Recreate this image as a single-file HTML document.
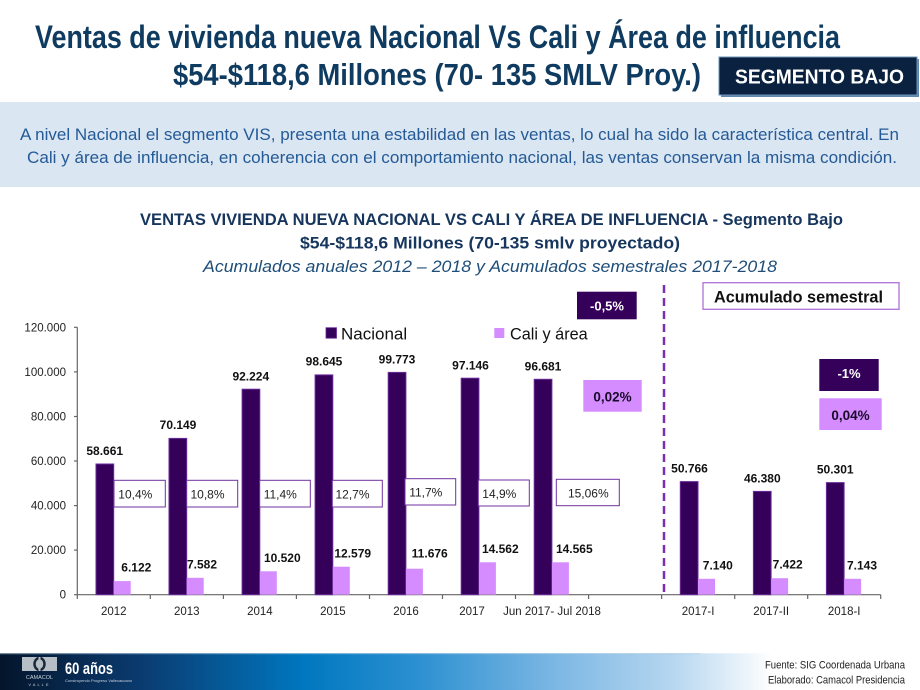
<!DOCTYPE html>
<html><head><meta charset="utf-8"><style>
html,body{margin:0;padding:0;background:#fff;}
svg{display:block;}
</style></head><body>
<svg width="920" height="690" viewBox="0 0 920 690" xmlns="http://www.w3.org/2000/svg" font-family="Liberation Sans, sans-serif">
<defs>
<linearGradient id="ft" x1="0" y1="0" x2="1" y2="0">
<stop offset="0" stop-color="#04152b"/>
<stop offset="0.15" stop-color="#0a3a6e"/>
<stop offset="0.33" stop-color="#0077bf"/>
<stop offset="0.45" stop-color="#2a8fd0"/>
<stop offset="0.6" stop-color="#7ab6e3"/>
<stop offset="0.73" stop-color="#b5d6f0"/>
<stop offset="0.84" stop-color="#ffffff"/>
<stop offset="1" stop-color="#ffffff"/>
</linearGradient>
</defs>
<rect width="920" height="690" fill="#fff"/>
<!-- header -->
<text x="35" y="48" font-size="32" font-weight="bold" fill="#0e3b5f" textLength="805" lengthAdjust="spacingAndGlyphs">Ventas de vivienda nueva Nacional Vs Cali y Área de influencia</text>
<text x="173" y="85" font-size="31" font-weight="bold" fill="#0e3b5f" textLength="528" lengthAdjust="spacingAndGlyphs">$54-$118,6 Millones (70- 135 SMLV Proy.)</text>
<rect x="721" y="59" width="198" height="38" fill="#5f86ab"/>
<rect x="719" y="57" width="198" height="38" fill="#0a2240" stroke="#6f94b8" stroke-width="1"/>
<text x="735" y="83.5" font-size="20" font-weight="bold" fill="#fff" textLength="169" lengthAdjust="spacingAndGlyphs">SEGMENTO BAJO</text>
<!-- band -->
<rect x="0" y="102" width="920" height="85" fill="#dae6f2"/>
<text x="20" y="140" font-size="16.5" fill="#245a96" textLength="879" lengthAdjust="spacingAndGlyphs">A nivel Nacional el segmento VIS, presenta una estabilidad en las ventas, lo cual ha sido la característica central. En</text>
<text x="27" y="163" font-size="16.5" fill="#245a96" textLength="870" lengthAdjust="spacingAndGlyphs">Cali y área de influencia, en coherencia con el comportamiento nacional, las ventas conservan la misma condición.</text>
<!-- chart title -->
<text x="140" y="225" font-size="16.5" font-weight="bold" fill="#17365d" textLength="703" lengthAdjust="spacingAndGlyphs">VENTAS VIVIENDA NUEVA NACIONAL VS CALI Y ÁREA DE INFLUENCIA -  Segmento Bajo</text>
<text x="300" y="248.5" font-size="16.5" font-weight="bold" fill="#17365d" textLength="380" lengthAdjust="spacingAndGlyphs">$54-$118,6 Millones (70-135 smlv proyectado)</text>
<text x="203" y="272" font-size="16.5" font-style="italic" fill="#1f4e79" textLength="574" lengthAdjust="spacingAndGlyphs">Acumulados anuales 2012 – 2018 y Acumulados semestrales 2017-2018</text>

<!-- axes -->
<g stroke="#666" stroke-width="1.2">
<line x1="77.3" y1="327.3" x2="77.3" y2="594.7"/>
<line x1="77.3" y1="594.7" x2="880.7" y2="594.7"/>
<line x1="74" y1="327.3" x2="77.3" y2="327.3"/>
<line x1="74" y1="371.9" x2="77.3" y2="371.9"/>
<line x1="74" y1="416.5" x2="77.3" y2="416.5"/>
<line x1="74" y1="461" x2="77.3" y2="461"/>
<line x1="74" y1="505.6" x2="77.3" y2="505.6"/>
<line x1="74" y1="550.1" x2="77.3" y2="550.1"/>
<line x1="74" y1="594.7" x2="77.3" y2="594.7"/>
<line x1="77.3" y1="594.7" x2="77.3" y2="599"/>
<line x1="150.3" y1="594.7" x2="150.3" y2="599"/>
<line x1="223.4" y1="594.7" x2="223.4" y2="599"/>
<line x1="296.4" y1="594.7" x2="296.4" y2="599"/>
<line x1="369.5" y1="594.7" x2="369.5" y2="599"/>
<line x1="442.5" y1="594.7" x2="442.5" y2="599"/>
<line x1="515.5" y1="594.7" x2="515.5" y2="599"/>
<line x1="588.6" y1="594.7" x2="588.6" y2="599"/>
<line x1="661.6" y1="594.7" x2="661.6" y2="599"/>
<line x1="734.7" y1="594.7" x2="734.7" y2="599"/>
<line x1="807.7" y1="594.7" x2="807.7" y2="599"/>
<line x1="880.7" y1="594.7" x2="880.7" y2="599"/>
</g>
<g font-size="11.5" fill="#222" text-anchor="end">
<text x="66" y="331.5">120.000</text>
<text x="66" y="376">100.000</text>
<text x="66" y="420.5">80.000</text>
<text x="66" y="465">60.000</text>
<text x="66" y="509.5">40.000</text>
<text x="66" y="554">20.000</text>
<text x="66" y="598.5">0</text>
</g>
<g font-size="11.5" fill="#222" text-anchor="middle">
<text x="113.8" y="615">2012</text>
<text x="186.8" y="615">2013</text>
<text x="259.9" y="615">2014</text>
<text x="332.9" y="615">2015</text>
<text x="406" y="615">2016</text>
<text x="472" y="615">2017</text>
<text x="552" y="615">Jun 2017- Jul 2018</text>
<text x="698.1" y="615">2017-I</text>
<text x="771.2" y="615">2017-II</text>
<text x="844.2" y="615">2018-I</text>
</g>

<!-- bars nacional -->
<g fill="#35005a" stroke="#6a2a9a" stroke-width="1">
<rect x="96" y="464" width="17.7" height="130.7"/>
<rect x="169" y="438.4" width="17.7" height="156.3"/>
<rect x="242.1" y="389.2" width="17.7" height="205.5"/>
<rect x="315.1" y="374.9" width="17.7" height="219.8"/>
<rect x="388.2" y="372.4" width="17.7" height="222.3"/>
<rect x="461.2" y="378.2" width="17.7" height="216.5"/>
<rect x="534.2" y="379.3" width="17.7" height="215.4"/>
<rect x="680.3" y="481.6" width="17.7" height="113.1"/>
<rect x="753.4" y="491.4" width="17.7" height="103.3"/>
<rect x="826.4" y="482.6" width="17.7" height="112.1"/>
</g>
<!-- bars cali -->
<g fill="#d58cff">
<rect x="113.7" y="581.1" width="17" height="13.6"/>
<rect x="186.7" y="577.8" width="17" height="16.9"/>
<rect x="259.8" y="571.3" width="17" height="23.4"/>
<rect x="332.8" y="566.7" width="17" height="28"/>
<rect x="405.9" y="568.7" width="17" height="26"/>
<rect x="478.9" y="562.3" width="17" height="32.4"/>
<rect x="551.9" y="562.3" width="17" height="32.4"/>
<rect x="698" y="578.8" width="17" height="15.9"/>
<rect x="771.1" y="578.2" width="17" height="16.5"/>
<rect x="844.1" y="578.8" width="17" height="15.9"/>
</g>

<!-- data labels -->
<g font-size="12" font-weight="bold" fill="#111" text-anchor="middle">
<text x="104.7" y="455">58.661</text>
<text x="178" y="429">70.149</text>
<text x="250.8" y="380.3">92.224</text>
<text x="324" y="365.3">98.645</text>
<text x="397" y="363.3">99.773</text>
<text x="470.5" y="369.3">97.146</text>
<text x="543" y="370.3">96.681</text>
<text x="689.5" y="472.6">50.766</text>
<text x="762.3" y="482.3">46.380</text>
<text x="835.2" y="473.6">50.301</text>
<text x="136.3" y="571.6">6.122</text>
<text x="202" y="568.3">7.582</text>
<text x="282.3" y="562">10.520</text>
<text x="352.7" y="557.3">12.579</text>
<text x="429.7" y="557.6">11.676</text>
<text x="500.3" y="553">14.562</text>
<text x="574.3" y="553">14.565</text>
<text x="717.8" y="569.6">7.140</text>
<text x="787.7" y="568.6">7.422</text>
<text x="862" y="569.3">7.143</text>
</g>

<!-- percentage boxes -->
<g fill="#fff" stroke="#7030a0" stroke-width="1">
<rect x="114" y="480.3" width="51.3" height="26.7"/>
<rect x="186.7" y="480.3" width="51" height="26.7"/>
<rect x="259.7" y="480.3" width="50.6" height="26.7"/>
<rect x="332.3" y="480.3" width="50" height="26.7"/>
<rect x="405" y="478.7" width="50.7" height="26.3"/>
<rect x="478.3" y="480" width="51" height="26"/>
<rect x="556.3" y="479.3" width="63" height="26.4"/>
</g>
<g font-size="12" fill="#222" text-anchor="middle">
<text x="135.3" y="498.3">10,4%</text>
<text x="207.5" y="498.3">10,8%</text>
<text x="280.3" y="498.3">11,4%</text>
<text x="352.5" y="498.3">12,7%</text>
<text x="425.8" y="496.6">11,7%</text>
<text x="499.3" y="497.8">14,9%</text>
<text x="588.3" y="497.3">15,06%</text>
</g>

<!-- dashed divider -->
<line x1="664" y1="285" x2="664" y2="592" stroke="#7a2fb0" stroke-width="2.5" stroke-dasharray="8,5"/>

<!-- highlight boxes -->
<rect x="577" y="291.7" width="59.7" height="27.6" fill="#35005a"/>
<text x="607" y="310.6" font-size="13" font-weight="bold" fill="#fff" text-anchor="middle">-0,5%</text>
<rect x="583.3" y="380" width="58.4" height="31.7" fill="#d58cff"/>
<text x="612.5" y="401.5" font-size="13.5" font-weight="bold" fill="#1a0a2a" text-anchor="middle">0,02%</text>
<rect x="819.3" y="359" width="59.4" height="32" fill="#35005a"/>
<text x="849" y="378" font-size="13" font-weight="bold" fill="#fff" text-anchor="middle">-1%</text>
<rect x="819.3" y="398.3" width="62.4" height="31.7" fill="#d58cff"/>
<text x="850.5" y="419.8" font-size="13.5" font-weight="bold" fill="#1a0a2a" text-anchor="middle">0,04%</text>
<rect x="703" y="282.7" width="196" height="26.6" fill="#fff" stroke="#b070d8" stroke-width="1.3"/>
<text x="714" y="302.3" font-size="17" font-weight="bold" fill="#111" textLength="169" lengthAdjust="spacingAndGlyphs">Acumulado semestral</text>

<!-- legend -->
<rect x="326" y="327.7" width="10.5" height="10.5" fill="#35005a" stroke="#6a2a9a" stroke-width="0.8"/>
<text x="341" y="339.3" font-size="17" fill="#111">Nacional</text>
<rect x="494.3" y="328" width="10" height="10" fill="#d58cff"/>
<text x="510" y="339.3" font-size="17" fill="#111" textLength="77.7" lengthAdjust="spacingAndGlyphs">Cali y área</text>

<!-- footer -->
<rect x="0" y="653.3" width="920" height="36.7" fill="url(#ft)"/>
<rect x="0" y="653.3" width="700" height="1" fill="#9ec3e0" opacity="0.5"/>
<rect x="22" y="657" width="35" height="14" fill="#b8bec6"/>
<ellipse cx="39.5" cy="664" rx="5" ry="6" fill="none" stroke="#1a2a3a" stroke-width="2.5"/>
<rect x="38.5" y="657" width="2" height="14" fill="#b8bec6"/>
<text x="39.5" y="679" font-size="5.5" fill="#c8d0da" text-anchor="middle">CAMACOL</text>
<text x="39.5" y="686" font-size="4" fill="#c8d0da" text-anchor="middle" letter-spacing="2">VALLE</text>
<text x="65" y="674" font-size="17" font-weight="bold" fill="#fff" textLength="48" lengthAdjust="spacingAndGlyphs">60 años</text>
<text x="65" y="682" font-size="4" fill="#c8d0da">Construyendo Progreso Vallecaucano</text>
<text x="905" y="668.5" font-size="11" fill="#222" text-anchor="end" textLength="140" lengthAdjust="spacingAndGlyphs">Fuente: SIG Coordenada Urbana</text>
<text x="905" y="683.5" font-size="11" fill="#222" text-anchor="end" textLength="137" lengthAdjust="spacingAndGlyphs">Elaborado: Camacol Presidencia</text>
</svg>
</body></html>
